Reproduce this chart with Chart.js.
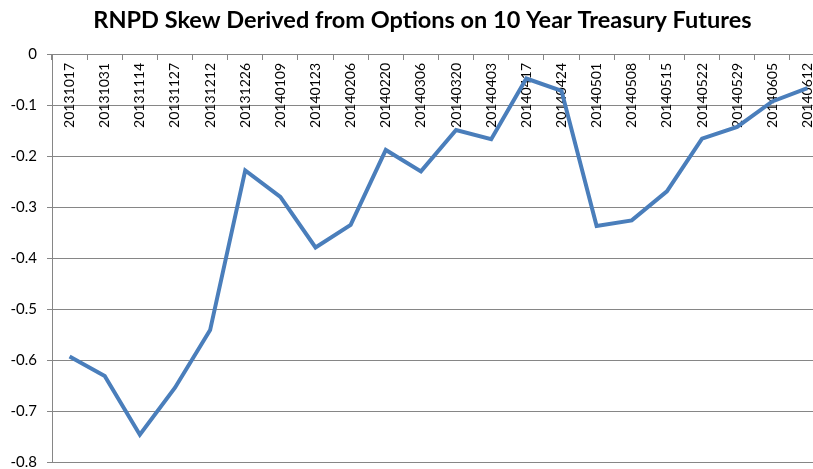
<!DOCTYPE html>
<html>
<head>
<meta charset="utf-8">
<script src="https://cdn.jsdelivr.net/npm/chart.js@4.4.1/dist/chart.umd.min.js"></script>
<style>
  html, body { margin: 0; padding: 0; background: #ffffff; overflow: hidden; width: 813px; height: 469px; }
  #wrap { position: absolute; left: 0; top: 0; width: 845px; height: 479px; }
</style>
</head>
<body>
<div id="wrap"><canvas id="c" width="845" height="479"></canvas></div>
<script>
const chartTitle = 'RNPD Skew Derived from Options on 10 Year Treasury Futures';
const categories = ['20131017','20131031','20131114','20131127','20131212','20131226','20140109','20140123',
  '20140206','20140220','20140306','20140320','20140403','20140417','20140424','20140501','20140508',
  '20140515','20140522','20140529','20140605','20140612'];
const skewValues = [-0.593,-0.631,-0.746,-0.654,-0.541,-0.228,-0.280,-0.379,-0.335,-0.188,-0.230,
  -0.149,-0.167,-0.048,-0.072,-0.337,-0.326,-0.269,-0.166,-0.143,-0.093,-0.067];
const yMin = -0.8, yMax = 0, yStep = 0.1;

const axisGray = '#868686';
const FONT = 'Lato, "Liberation Sans", sans-serif';

new Chart(document.getElementById('c'), {
  type: 'line',
  data: {
    labels: categories,
    datasets: [{
      label: 'Skew',
      data: skewValues,
      borderColor: '#4a7ebb',
      backgroundColor: '#4a7ebb',
      borderWidth: 4,
      pointRadius: 0,
      tension: 0,
      fill: false
    }]
  },
  options: {
    responsive: false,
    animation: false,
    layout: { padding: { left: 0, right: 0, top: 0, bottom: 0 } },
    plugins: {
      legend: { display: false },
      tooltip: { enabled: false },
      title: {
        display: true,
        text: chartTitle,
        color: '#000000',
        font: { family: FONT, size: 23.5, weight: 'bold', lineHeight: 1.2 },
        padding: { top: 6, bottom: 19.8 }
      }
    },
    scales: {
      x: {
        type: 'category',
        position: { y: 0 },
        offset: true,
        grid: { drawOnChartArea: false, drawTicks: true, tickLength: 5, color: axisGray, offset: true },
        border: { display: true, color: axisGray, width: 1 },
        ticks: {
          autoSkip: false, minRotation: 90, maxRotation: 90, padding: 4,
          color: '#000000', font: { family: FONT, size: 14 }
        }
      },
      y: {
        min: yMin, max: yMax,
        afterFit: (s) => { s.width = 52; },
        grid: { color: axisGray, lineWidth: 1, tickLength: 5, drawTicks: true },
        border: { display: true, color: axisGray, width: 1 },
        ticks: {
          stepSize: yStep, padding: 10, color: '#000000',
          font: { family: FONT, size: 15, lineHeight: 0.9 },
          callback: (v) => (Math.abs(v) < 1e-9 ? '0' : v.toFixed(1))
        }
      },
      yRightSpacer: {
        position: 'right',
        min: yMin, max: yMax,
        afterFit: (s) => { s.width = 20; },
        grid: { display: false, drawOnChartArea: false },
        border: { display: false },
        ticks: { display: false }
      }
    }
  }
});
</script>
</body>
</html>
